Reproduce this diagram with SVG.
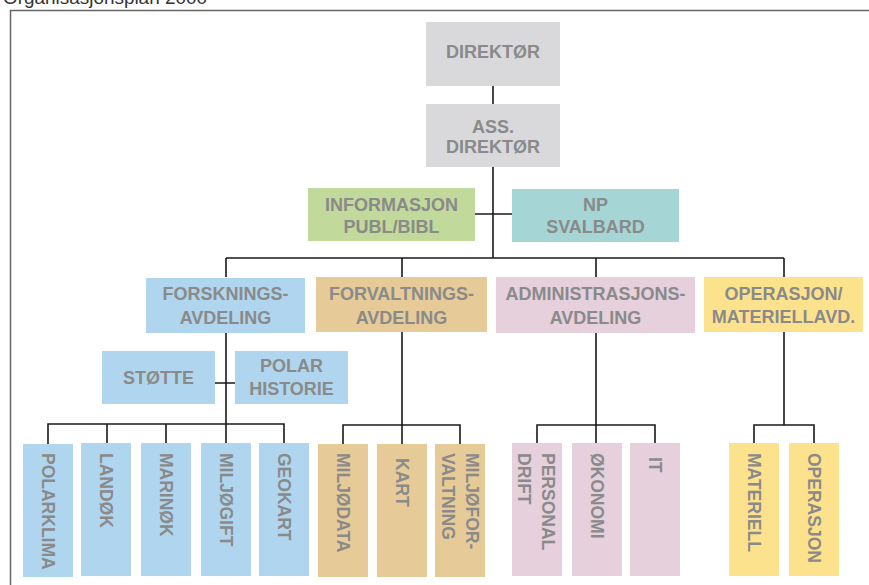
<svg xmlns="http://www.w3.org/2000/svg" width="869" height="585" viewBox="0 0 869 585">
<style>
.t{font-family:"Liberation Sans",Arial,sans-serif;font-weight:bold;font-size:18px;fill:#8a8a8a;text-anchor:middle}
.v{font-family:"Liberation Sans",Arial,sans-serif;font-weight:bold;font-size:17.5px;fill:#8a8a8a}
.gray{fill:#d9d9db}.green{fill:#c1d99a}.teal{fill:#a6d5d6}.blue{fill:#afd6ee}.tan{fill:#e6cb98}.pink{fill:#e5d0dc}.yellow{fill:#fde28e}
.c{stroke:#1a1a1a;stroke-width:1.6;fill:none}
</style>
<rect width="869" height="585" fill="#ffffff"/>
<text x="3" y="4" font-family="Liberation Sans,Arial,sans-serif" font-size="18" fill="#333" textLength="204" lengthAdjust="spacingAndGlyphs">Organisasjonsplan 2000</text>
<path d="M10.5 585V10.5H869" stroke="#666" stroke-width="1.5" fill="none"/>
<g id="connectors" class="c">
<path d="M493 86V104M493 167V258M475 214H512M226 258H784M226 258V277M402 258V277M596 258V277M784 258V277"/>
<path d="M226 332V424M215 383H235M48 444V424H284V444M107 424V444M166 424V444M226 424V444"/>
<path d="M402 332V425M343 444V425H460V444M402 425V444"/>
<path d="M596 333V425M537 443V425H655V443M596 425V443"/>
<path d="M784 332V425M754 443V425H814V443"/>
</g>
<g id="direktor"><rect class="gray" x="426" y="22" width="134" height="64"/><text class="t" x="493" y="58">DIREKTØR</text></g>
<g id="ass-direktor"><rect class="gray" x="426" y="104" width="134" height="63"/><text class="t" x="493" y="133">ASS.</text><text class="t" x="493" y="153">DIREKTØR</text></g>
<g id="informasjon"><rect class="green" x="308" y="188" width="167" height="53"/><text class="t" x="391.5" y="211">INFORMASJON</text><text class="t" x="391.5" y="233">PUBL/BIBL</text></g>
<g id="np-svalbard"><rect class="teal" x="512" y="189" width="167" height="53"/><text class="t" x="595.5" y="211">NP</text><text class="t" x="595.5" y="233">SVALBARD</text></g>
<g id="forskning"><rect class="blue" x="146" y="278" width="159" height="55"/><text class="t" x="225.5" y="300">FORSKNINGS-</text><text class="t" x="225.5" y="324">AVDELING</text></g>
<g id="forvaltning"><rect class="tan" x="316" y="277" width="171" height="55"/><text class="t" x="401.5" y="300">FORVALTNINGS-</text><text class="t" x="401.5" y="324">AVDELING</text></g>
<g id="administrasjon"><rect class="pink" x="496" y="277" width="199" height="56"/><text class="t" x="595.5" y="300">ADMINISTRASJONS-</text><text class="t" x="595.5" y="324">AVDELING</text></g>
<g id="operasjon-avd"><rect class="yellow" x="704" y="277" width="159" height="55"/><text class="t" x="783.5" y="300">OPERASJON/</text><text class="t" x="783.5" y="323">MATERIELLAVD.</text></g>
<g id="stotte"><rect class="blue" x="102" y="351" width="113" height="53"/><text class="t" x="158.5" y="384">STØTTE</text></g>
<g id="polar-historie"><rect class="blue" x="235" y="351" width="113" height="53"/><text class="t" x="291.5" y="372">POLAR</text><text class="t" x="291.5" y="395">HISTORIE</text></g>
<g id="polarklima"><rect class="blue" x="23" y="444" width="50" height="133"/><text class="v" transform="translate(41.5,453) rotate(90)">POLARKLIMA</text></g>
<g id="landok"><rect class="blue" x="81" y="443" width="50" height="133"/><text class="v" transform="translate(99.5,453) rotate(90)">LANDØK</text></g>
<g id="marinok"><rect class="blue" x="141" y="443" width="50" height="133"/><text class="v" transform="translate(159.5,453) rotate(90)">MARINØK</text></g>
<g id="miljogift"><rect class="blue" x="201" y="443" width="50" height="133"/><text class="v" transform="translate(219.5,453) rotate(90)">MILJØGIFT</text></g>
<g id="geokart"><rect class="blue" x="259" y="443" width="50" height="133"/><text class="v" transform="translate(277.5,453) rotate(90)">GEOKART</text></g>
<g id="miljodata"><rect class="tan" x="318" y="444" width="50" height="133"/><text class="v" transform="translate(336.5,453) rotate(90)">MILJØDATA</text></g>
<g id="kart"><rect class="tan" x="377" y="444" width="50" height="133"/><text class="v" transform="translate(395.5,458) rotate(90)">KART</text></g>
<g id="miljoforvaltning"><rect class="tan" x="435" y="444" width="50" height="133"/><text class="v" transform="translate(466,453) rotate(90)">MILJØFOR-</text><text class="v" transform="translate(442,453) rotate(90)">VALTNING</text></g>
<g id="personal-drift"><rect class="pink" x="512" y="443" width="50" height="133"/><text class="v" transform="translate(542,453) rotate(90)">PERSONAL</text><text class="v" transform="translate(518,453) rotate(90)">DRIFT</text></g>
<g id="okonomi"><rect class="pink" x="572" y="443" width="50" height="133"/><text class="v" transform="translate(590.5,453) rotate(90)">ØKONOMI</text></g>
<g id="it"><rect class="pink" x="630" y="443" width="50" height="133"/><text class="v" transform="translate(648.5,457) rotate(90)">IT</text></g>
<g id="materiell"><rect class="yellow" x="729" y="443" width="50" height="133"/><text class="v" transform="translate(747.5,453) rotate(90)">MATERIELL</text></g>
<g id="operasjon"><rect class="yellow" x="789" y="443" width="50" height="133"/><text class="v" transform="translate(807.5,453) rotate(90)">OPERASJON</text></g>
</svg>
